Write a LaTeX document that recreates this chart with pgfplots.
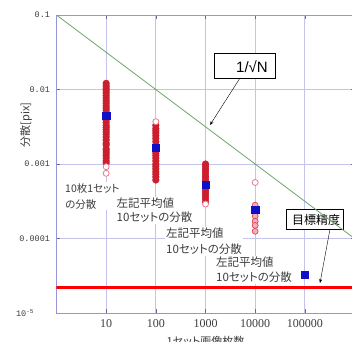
\documentclass[border=0pt]{standalone}
\usepackage{fontspec}
\setmainfont{Liberation Serif}
\newfontfamily\cjk[RawFeature=+palt]{Noto Sans CJK JP}
\newfontfamily\arial{Liberation Sans}
\newfontfamily\mono{Liberation Mono}
\usepackage{pgfplots}
\pgfplotsset{compat=1.18}
\usetikzlibrary{arrows.meta}

\definecolor{framec}{RGB}{150,150,215}
\definecolor{gridc}{RGB}{195,195,235}
\definecolor{lgreen}{RGB}{110,165,110}
\definecolor{dred}{RGB}{205,30,45}
\definecolor{dredo}{RGB}{220,70,90}
\definecolor{pinkc}{RGB}{235,120,140}
\definecolor{mblue}{RGB}{15,15,200}
\definecolor{txt}{RGB}{60,60,60}

\begin{document}
\begin{tikzpicture}
\begin{axis}[
  xmode=log, ymode=log,
  scale only axis, width=298pt, height=298pt,
  xmin=1, xmax=1e6, ymin=1e-5, ymax=0.1,
  xtick={10,100,1000,10000,100000},
  xticklabels={10,100,1000,10000,100000},
  ytick={1e-5,1e-4,1e-3,1e-2,1e-1},
  yticklabels={{10\textsuperscript{-5}\kern16pt},0.0001,0.001,0.01,0.1},
  xticklabel style={font=\fontsize{12}{12}\selectfont, text=txt, yshift=-3pt},
  yticklabel style={font=\mono\fontsize{8.5}{9}\selectfont, text=txt, xshift=-3pt},
  xminorticks=false, yminorticks=false,
  grid=major,
  major grid style={gridc, line width=0.8pt},
  axis line style={framec, line width=0.9pt},
  tick style={framec!70!black, line width=0.6pt},
  major tick length=4pt, tick align=inside,
  xlabel={\cjk 1セット画像枚数},
  xlabel style={font=\fontsize{11}{11}\selectfont, at={(axis description cs:0.5,0)}, anchor=north, yshift=-20pt, text=txt},
  ylabel={\cjk 分散[pix]},
  ylabel style={font=\fontsize{11}{11}\selectfont, at={(axis description cs:-0.1023,0.631)}, anchor=center, text=txt},
]
\coordinate (O) at (rel axis cs:0,0);

% text labels with white background
\node[anchor=north west, fill=white, inner sep=1.5pt, align=left, font=\cjk\fontsize{10.5}{16}\selectfont, text=txt] at (rel axis cs:0.0235,0.4413) {10枚1セット\\の分散};
\node[anchor=north west, fill=white, inner sep=1.5pt, align=left, font=\cjk\fontsize{11.5}{14}\selectfont, text=txt] at (rel axis cs:0.1963,0.3909) {左記平均値\\10セットの分散};
\node[anchor=north west, fill=white, inner sep=1.5pt, align=left, font=\cjk\fontsize{11.5}{16}\selectfont, text=txt] at (rel axis cs:0.3624,0.2903) {左記平均値\\10セットの分散};
\node[anchor=north west, fill=white, inner sep=1.5pt, align=left, font=\cjk\fontsize{11.5}{15}\selectfont, text=txt] at (rel axis cs:0.5302,0.1930) {左記平均値\\10セットの分散};

% annotation boxes
\draw[black, line width=0.6pt, fill=white] (rel axis cs:0.5285,0.8725) rectangle (rel axis cs:0.7332,0.7886);
\node[anchor=east, inner sep=0pt, font=\arial\fontsize{15}{15}\selectfont] at (rel axis cs:0.7097,0.8272) {1/√N};
\draw[black, line width=0.6pt, fill=white] (rel axis cs:0.7701,0.3490) rectangle (rel axis cs:0.9614,0.2819);
\node[inner sep=0pt, font=\cjk\fontsize{12}{12}\selectfont] at (rel axis cs:0.8708,0.3138) {目標精度};

% 1/sqrt(N) line
\addplot[lgreen, line width=0.8pt] coordinates {(1,0.1) (1000000,0.0001)};

% dense variance points
\addplot[only marks, mark=*, mark size=3.4pt, mark options={fill=dred, draw=dred, line width=0.3pt}] coordinates {
(10,0.0121) (10,0.0112) (10,0.0104) (10,0.0097) (10,0.0090) (10,0.0083) (10,0.0077) (10,0.0071)
(10,0.0066) (10,0.0061) (10,0.0057) (10,0.0053) (10,0.0049) (10,0.0045) (10,0.0042) (10,0.0039)
(10,0.0036) (10,0.0033) (10,0.0031) (10,0.0029) (10,0.0027) (10,0.0025) (10,0.0023) (10,0.0021)
(10,0.0019) (10,0.0018) (10,0.0016) (10,0.0015) (10,0.0014) (10,0.0013) (10,0.0012) (10,0.0011) (10,0.00103)
(100,0.0033) (100,0.0030) (100,0.0028) (100,0.0026) (100,0.0024) (100,0.0022) (100,0.0020) (100,0.0018)
(100,0.0017) (100,0.0015) (100,0.0014) (100,0.0013) (100,0.0012) (100,0.0011) (100,0.0010) (100,0.00093)
(100,0.00086) (100,0.00079) (100,0.00073) (100,0.00067) (100,0.00061)
(1000,0.00100) (1000,0.00093) (1000,0.00086) (1000,0.00080) (1000,0.00074) (1000,0.00068) (1000,0.00063)
(1000,0.00058) (1000,0.00054) (1000,0.00050) (1000,0.00046) (1000,0.00043) (1000,0.00040) (1000,0.00037)
(1000,0.00034) (1000,0.00031)
};
% sparse points at 10000
\addplot[only marks, mark=*, mark size=3pt, mark options={fill=pinkc!60!white, draw=dredo, line width=0.7pt}] coordinates {
(10000,0.00028) (10000,0.00024) (10000,0.00020) (10000,0.00017) (10000,0.00015) (10000,0.000125)
};
% isolated points (open circles)
\addplot[only marks, mark=*, mark size=3pt, mark options={fill=white, draw=pinkc, line width=0.8pt}] coordinates {
(10,0.00092) (10,0.00075) (100,0.0037) (1000,0.00029) (10000,0.000565)
};
% means of 10 sets
\addplot[only marks, mark=square*, mark size=3.6pt, mark options={fill=mblue, draw=mblue}] coordinates {
(10,0.00445) (100,0.00166) (1000,0.000522) (10000,0.000245) (100000,0.000033)
};
% target precision
\addplot[red, line width=3.5pt] coordinates {(1,0.000022) (1000000,0.000022)};

% arrows
\draw[-{Stealth[length=4pt,width=3pt]}, black, line width=0.4pt] (rel axis cs:0.6158,0.7886) -- (rel axis cs:0.5151,0.6309);
\draw[-{Stealth[length=4pt,width=3pt]}, black, line width=0.4pt] (rel axis cs:0.9178,0.2819) -- (rel axis cs:0.8842,0.1007);
\end{axis}
\pgfresetboundingbox
\path[use as bounding box] ([xshift=-56.5pt,yshift=-28pt]O) rectangle ([xshift=295.5pt,yshift=313pt]O);
\end{tikzpicture}
\end{document}
